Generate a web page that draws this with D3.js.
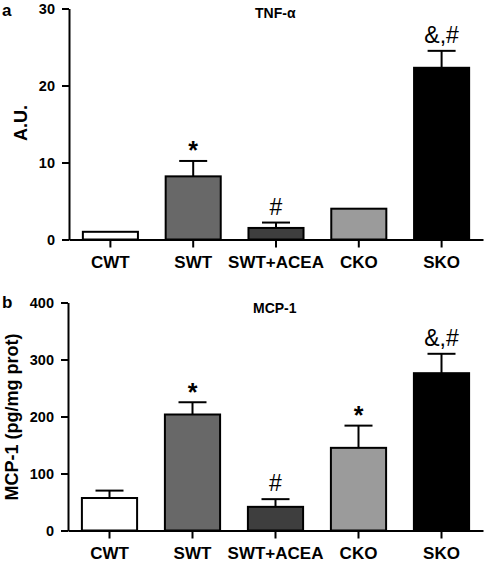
<!DOCTYPE html>
<html>
<head>
<meta charset="utf-8">
<script src="https://cdn.jsdelivr.net/npm/d3@7/dist/d3.min.js"></script>
<style>
  html, body { margin: 0; padding: 0; background: #fff; }
  svg { display: block; }
  text { font-family: Arial, "Liberation Sans", Helvetica, sans-serif; }
</style>
</head>
<body>
<svg id="chart" width="485" height="563"></svg>
<script>
const categories = ["CWT", "SWT", "SWT+ACEA", "CKO", "SKO"];
const barColors = ["#ffffff", "#686868", "#3e3e3e", "#9b9b9b", "#000000"];

const tnfValues = [1.0, 8.2, 1.5, 4.0, 22.3];
const tnfErrors = [0, 2.0, 0.7, 0, 2.2];
const tnfMarks = ["", "*", "#", "", "&,#"];
const tnfTicks = [0, 10, 20, 30];

const mcpValues = [57, 203.5, 41.5, 145, 276];
const mcpErrors = [13, 21.5, 13.5, 39, 34];
const mcpMarks = ["", "*", "#", "*", "&,#"];
const mcpTicks = [0, 100, 200, 300, 400];

const svg = d3.select("#chart");

function panel(cfg) {
  const g = svg.append("g");
  const x = d3.scaleBand().domain(categories).range([cfg.x0, cfg.x1])
    .paddingInner(0.335).paddingOuter(0.1675);
  const y = d3.scaleLinear().domain(cfg.domain).range([cfg.yBot, cfg.yTop]);

  // bars
  g.selectAll("rect.bar").data(cfg.values).join("rect")
    .attr("class", "bar")
    .attr("x", (d, i) => x(categories[i]))
    .attr("width", x.bandwidth())
    .attr("y", d => y(d))
    .attr("height", d => y(0) - y(d))
    .attr("fill", (d, i) => barColors[i])
    .attr("stroke", "#000").attr("stroke-width", 2);

  // error bars (upper only)
  const cap = 14;
  cfg.values.forEach((v, i) => {
    const e = cfg.errors[i];
    if (e <= 0) return;
    const cx = x(categories[i]) + x.bandwidth() / 2;
    g.append("line").attr("x1", cx).attr("x2", cx)
      .attr("y1", y(v)).attr("y2", y(v + e))
      .attr("stroke", "#000").attr("stroke-width", 2);
    g.append("line").attr("x1", cx - cap).attr("x2", cx + cap)
      .attr("y1", y(v + e)).attr("y2", y(v + e))
      .attr("stroke", "#000").attr("stroke-width", 2);
  });

  // significance marks
  cfg.marks.forEach((m, i) => {
    if (!m) return;
    const cx = x(categories[i]) + x.bandwidth() / 2;
    const top = y(cfg.values[i] + cfg.errors[i]);
    const star = m === "*";
    g.append("text").attr("x", cx)
      .attr("y", star ? top - 1.5 : top - 8)
      .attr("text-anchor", "middle")
      .attr("font-size", star ? 25 : 23)
      .attr("font-weight", star ? "bold" : "normal")
      .attr("fill", "#000")
      .text(m);
  });

  // axes
  const ya = g.append("g").attr("transform", `translate(${cfg.x0},0)`)
    .call(d3.axisLeft(y).tickValues(cfg.ticks).tickSize(7).tickPadding(7).tickSizeOuter(0));
  ya.selectAll("text").attr("font-size", 14.5).attr("font-weight", "bold").attr("fill", "#000")
    .style("font-family", "Arial, 'Liberation Sans', sans-serif");
  ya.selectAll("line, path").attr("stroke", "#000").attr("stroke-width", 2);

  const xa = g.append("g").attr("transform", `translate(0,${cfg.yBot})`)
    .call(d3.axisBottom(x).tickSize(8).tickPadding(8).tickSizeOuter(0));
  xa.selectAll("text").attr("font-size", 17).attr("font-weight", "bold").attr("fill", "#000")
    .style("font-family", "Arial, 'Liberation Sans', sans-serif");
  xa.selectAll("line, path").attr("stroke", "#000").attr("stroke-width", 2);

  // y-axis label
  g.append("text")
    .attr("transform", `translate(${cfg.ylabX},${cfg.ylabY}) rotate(-90)`)
    .attr("text-anchor", "middle")
    .attr("font-size", 18).attr("font-weight", "bold")
    .text(cfg.ylabel);

  // title
  g.append("text").attr("x", cfg.titleX).attr("y", cfg.titleY)
    .attr("font-size", 14).attr("font-weight", "bold").text(cfg.title);

  // panel letter
  g.append("text").attr("x", 2).attr("y", cfg.letterY)
    .attr("font-size", 17).attr("font-weight", "bold").text(cfg.letter);
}

panel({
  x0: 69, x1: 483, yTop: 8.5, yBot: 239.5, domain: [0, 30], ticks: tnfTicks,
  values: tnfValues, errors: tnfErrors, marks: tnfMarks,
  ylabel: "A.U.", ylabX: 27, ylabY: 123,
  title: "TNF-α", titleX: 255, titleY: 18,
  letter: "a", letterY: 16
});

panel({
  x0: 68, x1: 483, yTop: 302.5, yBot: 530.5, domain: [0, 400], ticks: mcpTicks,
  values: mcpValues, errors: mcpErrors, marks: mcpMarks,
  ylabel: "MCP-1 (pg/mg prot)", ylabX: 18, ylabY: 417,
  title: "MCP-1", titleX: 253, titleY: 313,
  letter: "b", letterY: 308
});
</script>
</body>
</html>
